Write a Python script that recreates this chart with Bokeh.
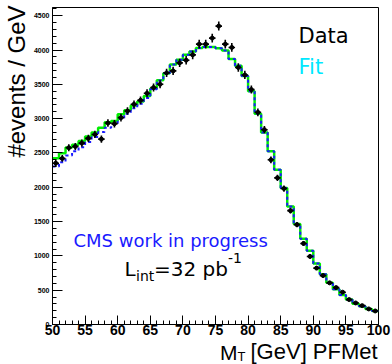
import numpy as np
from bokeh.plotting import figure
from bokeh.layouts import row, column
from bokeh.models import Label, FixedTicker, Range1d
from bokeh.embed import file_html
from bokeh.resources import INLINE

# M_T bins (1 GeV wide), low edges, from 50 to 100 GeV
bin_low_edges = list(range(50, 100))
bin_high_edge = 100

# data (events / GeV)
data_counts = [2351, 2420, 2576, 2595, 2643, 2712, 2770, 2702, 2936, 2927,
               3015, 3111, 3209, 3267, 3370, 3453, 3501, 3667, 3696, 3813,
               3852, 3930, 4086, 4086, 4174, 4349, 4086, 4038, 3746, 3637,
               3424, 3092, 2839, 2400, 2137, 1981, 1659, 1455, 1181, 992,
               822, 713, 607, 538, 471, 363, 314, 275, 227, 197]

# green template histogram
template_counts = [2424, 2497, 2580, 2620, 2673, 2741, 2800, 2868, 2946, 2965,
                   3063, 3121, 3190, 3249, 3330, 3440, 3560, 3660, 3790, 3860,
                   3930, 3980, 4030, 4045, 4045, 4025, 3995, 3870, 3770, 3620,
                   3400, 3070, 2800, 2526, 2254, 1991, 1718, 1465, 1250, 1075,
                   889, 734, 607, 515, 431, 363, 304, 266, 227, 197]

# fit (blue dashed histogram)
fit_counts = [2303, 2366, 2463, 2526, 2585, 2658, 2731, 2804, 2868, 2917,
              2994, 3073, 3151, 3219, 3300, 3430, 3555, 3660, 3790, 3860,
              3930, 3980, 4030, 4045, 4045, 4025, 3995, 3870, 3770, 3620,
              3400, 3070, 2800, 2526, 2254, 1991, 1718, 1465, 1250, 1075,
              889, 734, 607, 515, 431, 363, 304, 266, 227, 197]

x_major_ticks = [50, 55, 60, 65, 70, 75, 80, 85, 90, 95, 100]
x_minor_ticks = list(range(50, 101))
y_major_ticks = [0, 500, 1000, 1500, 2000, 2500, 3000, 3500, 4000, 4500]
y_minor_ticks = list(range(0, 4601, 100))

X_MIN, X_MAX = 50, 100
Y_MIN, Y_MAX = 0, 4620

W, H = 392, 364
LEFT_W = 30       # strip holding the y-axis title
BOTTOM_H = 25     # strip holding the x-axis title
MAIN_W, MAIN_H = W - LEFT_W, H - BOTTOM_H
BASE_SHIFT = 0.35  # empirical baseline correction (fraction of font size)

p = figure(width=MAIN_W, height=MAIN_H, output_backend="svg", toolbar_location=None,
           x_range=Range1d(X_MIN, X_MAX), y_range=Range1d(Y_MIN, Y_MAX),
           min_border_left=51 - LEFT_W, min_border_right=14, min_border_top=7,
           min_border_bottom=MAIN_H - 324)
p.background_fill_color = "white"
p.border_fill_color = "white"
p.outline_line_color = "black"
p.outline_line_width = 1
p.outline_line_alpha = 1
p.xgrid.visible = False
p.ygrid.visible = False

for ax, major, minor, fs in ((p.xaxis[0], x_major_ticks, x_minor_ticks, "14px"),
                             (p.yaxis[0], y_major_ticks, y_minor_ticks, "7px")):
    ax.ticker = FixedTicker(ticks=major, minor_ticks=minor)
    ax.major_tick_in = 9
    ax.major_tick_out = 0
    ax.minor_tick_in = 4
    ax.minor_tick_out = 0
    ax.axis_line_color = "black"
    ax.major_tick_line_color = "black"
    ax.minor_tick_line_color = "black"
    ax.major_label_text_font = "Liberation Sans"
    ax.major_label_text_font_style = "bold"
    ax.major_label_text_font_size = fs
    ax.major_label_text_color = "black"
    ax.axis_label = None
p.xaxis[0].major_label_standoff = 0
p.yaxis[0].major_label_standoff = 3
p.yaxis[0].major_tick_in = 10

# histograms as steps
step_x = bin_low_edges + [bin_high_edge]
p.step(step_x, template_counts + [template_counts[-1]], mode="after",
       line_color="#00ee00", line_width=2.5)
p.step(step_x, fit_counts + [fit_counts[-1]], mode="after",
       line_color="#1a1aff", line_width=2, line_dash="3 3")

# data with error bars
centers = np.array(bin_low_edges) + 0.5
counts = np.array(data_counts, dtype=float)
errs = np.sqrt(counts)
p.segment(centers - 0.5, counts, centers + 0.5, counts, line_color="black", line_width=1.6)
p.segment(centers, counts - errs, centers, counts + errs, line_color="black", line_width=1.6)
p.scatter(centers, counts, marker="circle", size=4, color="black")


def lab(fig, text, x, y, size_px, color="black", font="DejaVu Sans", angle=0.0, align="left"):
    fig.add_layout(Label(x=x, y=y, x_units="screen", y_units="screen",
                         text=text, text_font=font, text_font_size=f"{size_px}px",
                         text_color=color, text_baseline="alphabetic",
                         text_align=align, angle=angle))


# texts inside the frame: (text, page x, page baseline y, size, colour)
FL, FB = 51, 324
in_frame_texts = [("Data", 297, 42.7, 21, "black"),
                  ("Fit", 297, 74, 21, "#00e8ff"),
                  ("CMS work in progress", 72, 246, 18, "#1a1aff"),
                  ("L", 123, 275, 20, "black"),
                  ("int", 134.5, 280, 14, "black"),
                  ("=32 pb", 152.5, 275, 20, "black"),
                  ("-1", 226.5, 262, 14, "black")]
for txt, cx, cy, fs in [(t[0], t[1], t[2], t[3]) for t in in_frame_texts]:
    pass
for txt, cx, cy, fs, col in in_frame_texts:
    lab(p, txt, cx - FL, FB - cy + BASE_SHIFT * fs, fs, color=col)


def strip(w, h):
    f = figure(width=w, height=h, x_range=Range1d(0, w), y_range=Range1d(0, h),
               output_backend="svg", toolbar_location=None, min_border=0,
               x_axis_location=None, y_axis_location=None)
    f.grid.visible = False
    f.outline_line_color = None
    f.background_fill_color = "white"
    f.border_fill_color = "white"
    return f


# y-axis title strip (page x 0..30, y 0..MAIN_H); baseline at page x = 24.8
ly = strip(LEFT_W, MAIN_H)
lab(ly, "#events / GeV", 24.8 - BASE_SHIFT * 24, MAIN_H - 5, 24, font="Liberation Sans",
    angle=np.pi / 2, align="right")

# x-axis title strip (full width, page y MAIN_H..364)
bx = strip(W, BOTTOM_H)
x_title_parts = [("M", 219.5, 359, 21), ("T", 237, 361, 13),
                 ("[GeV] PFMet", 250, 359, 22)]
for txt, cx, cy, fs in x_title_parts:
    lab(bx, txt, cx, H - cy + BASE_SHIFT * fs, fs, font="Liberation Sans")

layout = column(row(ly, column(p, spacing=0), spacing=0), bx, spacing=0)
open("out.html", "w").write(file_html(layout, INLINE))
